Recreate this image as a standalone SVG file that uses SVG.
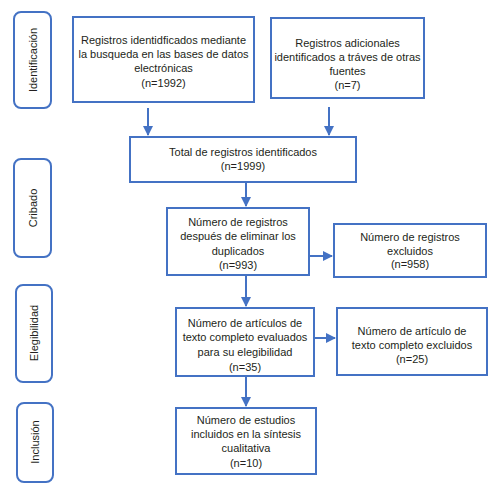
<svg xmlns="http://www.w3.org/2000/svg" width="496" height="486" viewBox="0 0 496 486">
<style>
.box{fill:#fff;stroke:#4472c4;stroke-width:2}
.side{fill:#fff;stroke:#4472c4;stroke-width:2}
.t{font-family:"Liberation Sans",Arial,sans-serif;font-size:11px;fill:#231f20;text-anchor:middle}
.c{stroke:#4472c4;stroke-width:2;fill:none}
</style>
<defs>
<marker id="ah" viewBox="0 0 10 10" refX="9" refY="5" markerWidth="5" markerHeight="5" orient="auto" markerUnits="strokeWidth">
<path d="M0,0 L10,5 L0,10 z" fill="#4472c4"/>
</marker>
</defs>
<rect width="496" height="486" fill="#fff"/>
<g id="stage-identificacion"><rect class="side" x="14" y="12" width="37" height="96" rx="7"/><text class="t" transform="translate(36.5,60) rotate(-90)">Identificación</text></g>
<g id="stage-cribado"><rect class="side" x="14" y="159" width="37" height="98" rx="7"/><text class="t" transform="translate(36.5,208) rotate(-90)">Cribado</text></g>
<g id="stage-elegibilidad"><rect class="side" x="16" y="285" width="36" height="97" rx="7"/><text class="t" transform="translate(38,333) rotate(-90)">Elegibilidad</text></g>
<g id="stage-inclusion"><rect class="side" x="17" y="403" width="36" height="79" rx="7"/><text class="t" transform="translate(39,442) rotate(-90)">Inclusión</text></g>

<g id="n1"><rect class="box" x="73" y="17" width="181" height="85"/>
<text class="t" x="163.5" y="44">Registros identidficados mediante</text>
<text class="t" x="163.5" y="58">la busqueda en las bases de datos</text>
<text class="t" x="163.5" y="72">electrónicas</text>
<text class="t" x="163.5" y="87">(n=1992)</text></g>

<g id="n2"><rect class="box" x="271" y="18" width="153" height="80"/>
<text class="t" x="347.5" y="47">Registros adicionales</text>
<text class="t" x="347.5" y="61">identificados a tráves de otras</text>
<text class="t" x="347.5" y="75">fuentes</text>
<text class="t" x="347.5" y="89">(n=7)</text></g>

<g id="n3"><rect class="box" x="130" y="137" width="226" height="45"/>
<text class="t" x="243" y="156">Total de registros identificados</text>
<text class="t" x="243" y="170">(n=1999)</text></g>

<g id="n4"><rect class="box" x="167" y="208" width="142" height="67"/>
<text class="t" x="238" y="226">Número de registros</text>
<text class="t" x="238" y="240">después de eliminar los</text>
<text class="t" x="238" y="255">duplicados</text>
<text class="t" x="238" y="269">(n=993)</text></g>

<g id="n5"><rect class="box" x="334" y="224" width="152" height="53"/>
<text class="t" x="410" y="241">Número de registros</text>
<text class="t" x="410" y="255">excluidos</text>
<text class="t" x="410" y="268">(n=958)</text></g>

<g id="n6"><rect class="box" x="176" y="308" width="138" height="68"/>
<text class="t" x="245" y="327">Número de artículos de</text>
<text class="t" x="245" y="341">texto completo evaluados</text>
<text class="t" x="245" y="356">para su elegibilidad</text>
<text class="t" x="245" y="371">(n=35)</text></g>

<g id="n7"><rect class="box" x="337" y="308" width="150" height="67"/>
<text class="t" x="412" y="335">Número de artículo de</text>
<text class="t" x="412" y="349">texto completo excluidos</text>
<text class="t" x="412" y="363">(n=25)</text></g>

<g id="n8"><rect class="box" x="176" y="408" width="140" height="66"/>
<text class="t" x="246" y="424">Número de estudios</text>
<text class="t" x="246" y="438">incluidos en la síntesis</text>
<text class="t" x="246" y="452">cualitativa</text>
<text class="t" x="246" y="467">(n=10)</text></g>

<g id="connectors">
<line class="c" x1="148" y1="108" x2="148" y2="135" marker-end="url(#ah)"/>
<line class="c" x1="329" y1="107" x2="329" y2="135" marker-end="url(#ah)"/>
<line class="c" x1="246" y1="182" x2="246" y2="206" marker-end="url(#ah)"/>
<line class="c" x1="309" y1="256" x2="332" y2="256" marker-end="url(#ah)"/>
<line class="c" x1="246" y1="275" x2="246" y2="306" marker-end="url(#ah)"/>
<line class="c" x1="314" y1="338" x2="335" y2="338" marker-end="url(#ah)"/>
<line class="c" x1="246" y1="376" x2="246" y2="406" marker-end="url(#ah)"/>
</g>
</svg>
